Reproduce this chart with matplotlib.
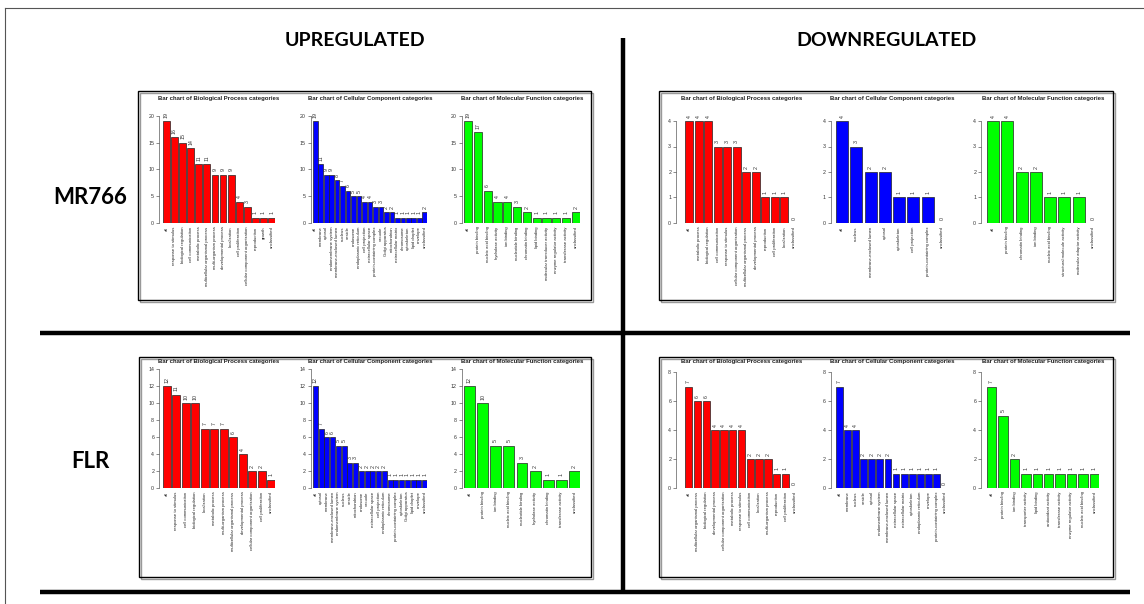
import matplotlib
matplotlib.use("Agg")
import matplotlib.pyplot as plt
from matplotlib.patches import Rectangle

W, H = 1144, 604
plt.rcParams['font.family'] = ['Liberation Sans', 'DejaVu Sans']

# ---- MR766, upregulated ----
mr_up_bp_labels = ["all", "response to stimulus", "biological regulation", "cell communication",
                   "metabolic process", "multicellular organismal process", "multi-organism process",
                   "developmental process", "localization", "cell proliferation",
                   "cellular component organization", "reproduction", "growth", "unclassified"]
mr_up_bp_values = [19, 16, 15, 14, 11, 11, 9, 9, 9, 4, 3, 1, 1, 1]

mr_up_cc_labels = ["all", "membrane", "cytosol", "endomembrane system", "membrane-enclosed lumen",
                   "nucleus", "vesicle", "endosome", "endoplasmic reticulum", "cell projection",
                   "extracellular space", "protein-containing complex", "vacuole", "Golgi apparatus",
                   "mitochondrion", "extracellular matrix", "chromosome", "cytoskeleton",
                   "lipid droplet", "envelope", "unclassified"]
mr_up_cc_values = [19, 11, 9, 9, 8, 7, 6, 5, 5, 4, 4, 3, 3, 2, 2, 1, 1, 1, 1, 1, 2]

mr_up_mf_labels = ["all", "protein binding", "nucleic acid binding", "hydrolase activity",
                   "ion binding", "nucleotide binding", "chromatin binding", "lipid binding",
                   "molecular transducer activity", "enzyme regulator activity",
                   "transferase activity", "unclassified"]
mr_up_mf_values = [19, 17, 6, 4, 4, 3, 2, 1, 1, 1, 1, 2]

# ---- MR766, downregulated ----
mr_dn_bp_labels = ["all", "metabolic process", "biological regulation", "cell communication",
                   "response to stimulus", "cellular component organization",
                   "multicellular organismal process", "developmental process", "reproduction",
                   "cell proliferation", "localization", "unclassified"]
mr_dn_bp_values = [4, 4, 4, 3, 3, 3, 2, 2, 1, 1, 1, 0]

mr_dn_cc_labels = ["all", "nucleus", "membrane-enclosed lumen", "cytosol", "cytoskeleton",
                   "cell projection", "protein-containing complex", "unclassified"]
mr_dn_cc_values = [4, 3, 2, 2, 1, 1, 1, 0]

mr_dn_mf_labels = ["all", "protein binding", "chromatin binding", "ion binding",
                   "nucleic acid binding", "structural molecule activity",
                   "molecular adaptor activity", "unclassified"]
mr_dn_mf_values = [4, 4, 2, 2, 1, 1, 1, 0]

# ---- FLR, upregulated ----
flr_up_bp_labels = ["all", "response to stimulus", "cell communication", "biological regulation",
                    "localization", "metabolic process", "multi-organism process",
                    "multicellular organismal process", "developmental process",
                    "cellular component organization", "cell proliferation", "unclassified"]
flr_up_bp_values = [12, 11, 10, 10, 7, 7, 7, 6, 4, 2, 2, 1]

flr_up_cc_labels = ["all", "cytosol", "membrane", "membrane-enclosed lumen", "endomembrane system",
                    "nucleus", "vesicle", "mitochondrion", "endosome", "vacuole",
                    "extracellular space", "cell projection", "endoplasmic reticulum", "chromosome",
                    "protein-containing complex", "cytoskeleton", "Golgi apparatus",
                    "lipid droplet", "envelope", "unclassified"]
flr_up_cc_values = [12, 7, 6, 6, 5, 5, 3, 3, 2, 2, 2, 2, 2, 1, 1, 1, 1, 1, 1, 1]

flr_up_mf_labels = ["all", "protein binding", "ion binding", "nucleic acid binding",
                    "nucleotide binding", "hydrolase activity", "chromatin binding",
                    "transferase activity", "unclassified"]
flr_up_mf_values = [12, 10, 5, 5, 3, 2, 1, 1, 2]

# ---- FLR, downregulated ----
flr_dn_bp_labels = ["all", "multicellular organismal process", "biological regulation",
                    "developmental process", "cellular component organization",
                    "metabolic process", "response to stimulus", "cell communication",
                    "localization", "multi-organism process", "reproduction",
                    "cell proliferation", "unclassified"]
flr_dn_bp_values = [7, 6, 6, 4, 4, 4, 4, 2, 2, 2, 1, 1, 0]

flr_dn_cc_labels = ["all", "membrane", "nucleus", "vesicle", "cytosol", "endomembrane system",
                    "membrane-enclosed lumen", "extracellular space", "extracellular matrix",
                    "cytoskeleton", "endoplasmic reticulum", "envelope",
                    "protein-containing complex", "unclassified"]
flr_dn_cc_values = [7, 4, 4, 2, 2, 2, 2, 1, 1, 1, 1, 1, 1, 0]

flr_dn_mf_labels = ["all", "protein binding", "ion binding", "transporter activity",
                    "lipid binding", "antioxidant activity", "transferase activity",
                    "enzyme regulator activity", "nucleic acid binding", "unclassified"]
flr_dn_mf_values = [7, 5, 2, 1, 1, 1, 1, 1, 1, 1]

titles = ["Bar chart of Biological Process categories",
          "Bar chart of Cellular Component categories",
          "Bar chart of Molecular Function categories"]
colors = ["#ff0000", "#0000ff", "#00ff00"]

fig = plt.figure(figsize=(W / 100, H / 100), dpi=100)
fig.patch.set_facecolor("white")

# background layer in pixel coordinates for frames and separators
bg = fig.add_axes([0, 0, 1, 1])
bg.set_xlim(0, W)
bg.set_ylim(H, 0)
bg.axis("off")

bg.plot([5, 5], [8, H], color="#555555", lw=0.8)
bg.plot([5, W], [8, 8], color="#555555", lw=0.8)
bg.plot([40, 1130], [333, 333], color="black", lw=3.2, solid_capstyle="butt")
bg.plot([40, 1130], [592, 592], color="black", lw=3.2, solid_capstyle="butt")
bg.plot([623, 623], [38, 592], color="black", lw=3.2, solid_capstyle="butt")

fig.text(355 / W, 1 - 40 / H, "UPREGULATED", family="Lato", weight="bold",
         fontsize=14, ha="center", va="center")
fig.text(887 / W, 1 - 40 / H, "DOWNREGULATED", family="Lato", weight="bold",
         fontsize=14, ha="center", va="center")
fig.text(90 / W, 1 - 198 / H, "MR766", family="Lato", weight="bold",
         fontsize=16, ha="center", va="center")
fig.text(90 / W, 1 - 462 / H, "FLR", family="Lato", weight="bold",
         fontsize=16, ha="center", va="center")


def px_rect(l, t, r, b):
    return [l / W, 1 - b / H, (r - l) / W, (b - t) / H]


def barchart(l, r, zero, top, title_y, labels, values, ymax, step, color, title, offset):
    ax = fig.add_axes(px_rect(l, top, r, zero))
    n = len(values)
    xs = [0.2 + 1.2 * i for i in range(n)]
    ax.bar(xs, values, width=1, align="edge", color=color,
           edgecolor="#222222", linewidth=0.5)
    for x, v in zip(xs, values):
        ax.annotate(str(v), (x + 0.5, v), xytext=(0, 2.5), textcoords="offset points",
                    rotation=90, ha="center", va="bottom", fontsize=3.8, color="#333333")
    ax.set_xlim(0.2, 1.2 * n)
    ax.set_ylim(0, ymax)
    ax.set_xticks([x + 0.5 for x in xs])
    ax.set_xticklabels(labels, rotation=90, ha="center", va="top", fontsize=3.1,
                       color="#222222")
    ax.set_yticks(range(0, ymax + 1, step))
    ax.tick_params(axis="x", length=0, pad=2.5)
    ax.tick_params(axis="y", length=2, width=0.4, pad=1.5, labelsize=3.8,
                   colors="#333333")
    for s in ("top", "right", "bottom"):
        ax.spines[s].set_visible(False)
    ax.spines["left"].set_position(("outward", offset * 0.72))
    ax.spines["left"].set_bounds(0, ymax)
    ax.spines["left"].set_linewidth(0.4)
    ax.spines["left"].set_color("#333333")
    ax.patch.set_alpha(0)
    fig.text((l + r) / 2 / W, 1 - title_y / H, title, ha="center", va="center",
             fontsize=4.3, weight="bold", color="#222222")


# panel frames
for (l, t, r, b) in [(138, 91, 591, 300), (659, 91, 1113, 300),
                     (139, 357, 591, 577), (659, 357, 1113, 577)]:
    bg.add_patch(Rectangle((l + 1.5, t + 1.5), r - l, b - t, fill=False,
                           ec="#999999", lw=1))
    bg.add_patch(Rectangle((l, t), r - l, b - t, fill=False, ec="black", lw=1))

left_x = [(163, 275, 4), (313, 427, 2.5), (464, 580, 2.5)]
right_x = [(685, 798, 9), (836, 948, 5.5), (987, 1099, 6)]

panels = [
    (left_x, 223, 116, 98, 20, 5,
     [(mr_up_bp_labels, mr_up_bp_values), (mr_up_cc_labels, mr_up_cc_values),
      (mr_up_mf_labels, mr_up_mf_values)]),
    (right_x, 223, 121, 98, 4, 1,
     [(mr_dn_bp_labels, mr_dn_bp_values), (mr_dn_cc_labels, mr_dn_cc_values),
      (mr_dn_mf_labels, mr_dn_mf_values)]),
    (left_x, 488, 369, 361, 14, 2,
     [(flr_up_bp_labels, flr_up_bp_values), (flr_up_cc_labels, flr_up_cc_values),
      (flr_up_mf_labels, flr_up_mf_values)]),
    (right_x, 488, 372, 361, 8, 2,
     [(flr_dn_bp_labels, flr_dn_bp_values), (flr_dn_cc_labels, flr_dn_cc_values),
      (flr_dn_mf_labels, flr_dn_mf_values)]),
]

for xs, zero, top, ty, ymax, step, sets in panels:
    for (l, r, off), (labs, vals), col, ttl in zip(xs, sets, colors, titles):
        barchart(l, r, zero, top, ty, labs, vals, ymax, step, col, ttl, off)

fig.savefig("out.png", dpi=100)
